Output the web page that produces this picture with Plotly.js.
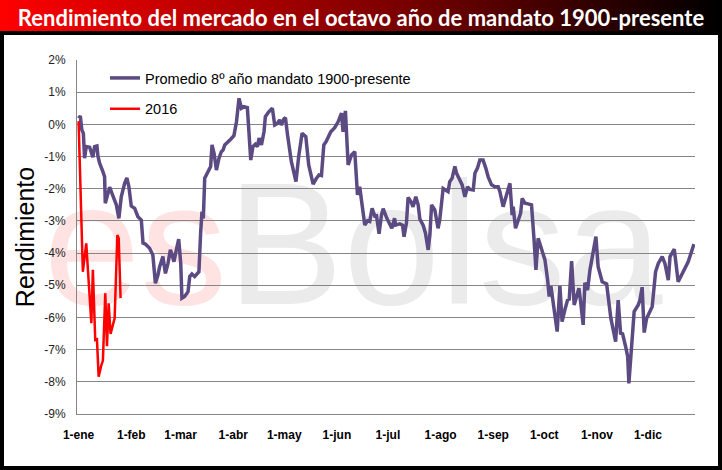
<!DOCTYPE html>
<html>
<head>
<meta charset="utf-8">
<script src="https://cdn.plot.ly/plotly-3.0.1.min.js"></script>
<style>html,body{margin:0;padding:0;background:#fff;}#chart{width:722px;height:470px;}</style>
</head>
<body>
<div id="chart"></div>
<script>
// ---- Data ----
// Day offsets from 1 January (calendar days) and returns in %
const avgDay = [0,1.0,1.9,2.8,3.5,4.5,6.5,8.4,9.4,10.8,11.4,12.4,14.3,15.3,15.7,16.9,18.3,19.6,22.2,23.7,25.1,27.1,28.4,29.6,31.0,33.0,34.9,36.9,37.9,39.3,41.8,43.7,45.2,46.7,47.7,49.6,51.1,52.6,54.0,54.9,56.1,57.5,58.9,60.1,60.8,62.4,64.4,65.4,66.7,68.3,69.9,70.8,71.8,72.6,73.4,74.2,75.2,76.1,77.7,78.5,79.7,81.1,82.6,84.0,85.0,86.0,87.6,89.5,91.4,92.9,94.4,95.8,97.3,99.3,101.3,102.6,104.0,105.2,106.2,107.6,109.1,109.9,111.9,114.0,115.4,117.0,118.3,119.3,120.7,121.7,122.9,125.2,127.9,129.5,131.5,133.7,135.4,138.0,140.0,141.5,142.9,144.3,145.8,148.4,150.7,152.7,154.7,155.6,157.0,158.6,160.6,162.5,164.1,165.4,166.8,168.4,170.0,171.3,172.7,174.3,175.3,176.8,178.2,179.2,181.4,184.3,185.9,186.6,189.0,190.6,191.5,192.9,193.9,195.5,196.8,198.4,199.8,200.8,202.7,204.1,205.7,206.7,207.7,209.6,211.5,212.5,214.5,216.5,217.4,218.4,219.8,221.4,222.4,224.3,225.7,227.3,228.9,230.2,232.2,233.2,234.7,236.1,238.0,239.6,241.0,243.0,244.9,246.9,247.9,249.8,251.8,253.8,255.1,255.7,257.1,258.6,260.1,261.0,262.6,264.5,266.5,268.0,269.1,270.4,272.4,274.4,276.0,276.9,277.9,279.2,281.6,283.2,284.5,286.1,287.7,288.7,290.1,291.6,293.0,294.4,295.6,296.9,297.9,299.5,300.9,302.8,304.4,305.7,308.1,310.7,313.2,316.0,317.5,318.9,320.1,321.9,323.1,323.8,325.4,326.9,329.3,330.3,331.6,332.8,334.2,336.2,337.5,339.5,341.1,343.4,345.0,347.0,348.0,350.5,352.8,354.8,358.7,362.1];
const avgVal = [0.19,0.26,-0.17,-0.28,-1.05,-0.69,-0.71,-1.02,-0.69,-0.67,-1.0,-1.21,-1.47,-1.63,-2.45,-2.25,-1.95,-2.14,-2.5,-2.92,-2.25,-1.83,-1.66,-1.94,-2.54,-2.61,-2.87,-2.97,-3.69,-3.72,-3.85,-4.06,-4.94,-4.68,-4.42,-4.11,-4.63,-4.32,-3.9,-4.03,-4.27,-3.9,-3.57,-4.32,-5.4,-5.35,-5.2,-4.73,-4.65,-4.73,-4.65,-4.58,-3.38,-2.71,-2.92,-1.67,-1.57,-1.47,-1.31,-0.64,-0.9,-1.42,-1.05,-0.85,-0.8,-0.64,-0.57,-0.46,-0.35,0.08,0.81,0.5,0.55,0.52,-1.11,-0.69,-0.62,-0.69,-0.43,-0.64,-0.23,0.24,0.39,0.5,-0.02,0.03,0.14,-0.02,0.16,0.21,-0.31,-1.16,-1.78,-1.0,-0.28,-0.38,-1.26,-1.86,-1.67,-1.57,-1.59,-0.64,-0.52,-0.23,-0.1,0.08,0.35,-0.23,0.42,-1.26,-0.95,-0.85,-2.19,-1.94,-2.5,-3.13,-3.0,-3.02,-2.61,-2.85,-2.84,-3.4,-2.82,-2.62,-2.92,-3.23,-2.92,-3.13,-3.09,-3.13,-3.49,-3.07,-2.27,-2.4,-2.56,-2.25,-2.5,-2.94,-3.13,-3.38,-3.9,-3.44,-2.5,-2.66,-3.23,-2.97,-1.99,-2.06,-2.09,-1.78,-1.67,-1.31,-1.52,-1.73,-1.88,-2.25,-1.94,-2.02,-2.04,-1.52,-1.36,-1.11,-1.11,-1.36,-1.63,-1.88,-1.94,-1.94,-2.09,-2.56,-2.19,-1.83,-2.82,-2.56,-3.23,-3.02,-2.76,-2.3,-2.45,-2.47,-2.5,-3.59,-4.52,-3.54,-3.85,-4.21,-4.84,-5.35,-5.02,-5.56,-6.44,-5.02,-6.13,-5.77,-5.46,-5.43,-4.25,-5.61,-5.35,-5.09,-5.61,-6.23,-4.92,-5.15,-4.52,-3.9,-3.49,-4.42,-4.89,-4.96,-6.03,-6.75,-5.46,-6.49,-6.51,-6.91,-7.22,-8.05,-6.8,-5.82,-5.61,-5.46,-5.06,-6.47,-6.03,-5.82,-5.67,-4.58,-4.32,-4.11,-4.32,-4.84,-4.11,-3.88,-4.89,-4.68,-4.27,-3.72];

const y2016Day = [0,2.5,4.5,7.5,8.4,9.8,10.8,11.8,13.3,14.3,15.7,16.7,17.7,18.8,21.2,22.8,23.6,24.7];
const y2016Val = [0.1,-4.58,-3.7,-6.18,-4.52,-6.7,-6.68,-7.84,-7.5,-7.34,-5.25,-6.89,-5.56,-6.51,-6.03,-3.44,-3.54,-5.4];

const seriesNames = ['Promedio 8º año mandato 1900-presente', '2016'];
const monthTicks = ['2016-01-01','2016-02-01','2016-03-01','2016-04-01','2016-05-01','2016-06-01','2016-07-01','2016-08-01','2016-09-01','2016-10-01','2016-11-01','2016-12-01'];
const monthLabels = ['1-ene','1-feb','1-mar','1-abr','1-may','1-jun','1-jul','1-ago','1-sep','1-oct','1-nov','1-dic'];
const yTickVals = [2,1,0,-1,-2,-3,-4,-5,-6,-7,-8,-9];
const yTickText = ['2%','1%','0%','-1%','-2%','-3%','-4%','-5%','-6%','-7%','-8%','-9%'];

const chartTitle = 'Rendimiento del mercado en el octavo año de mandato 1900-presente';
const yTitle = 'Rendimiento';

// ---- Helpers ----
function dayToDate(d) {
  const ms = Date.UTC(2016, 0, 1) + d * 86400000;
  return new Date(ms).toISOString().replace('T', ' ').slice(0, 19);
}

const W = 722, H = 470;
const M = {l: 77, r: 27, t: 60, b: 56};
const PW = W - M.l - M.r, PH = H - M.t - M.b;
const px = x => (x - M.l) / PW;          // pixel x -> paper x
const py = y => (H - M.b - y) / PH;      // pixel y -> paper y

const gradSvg = "<svg xmlns='http://www.w3.org/2000/svg' width='722' height='31' preserveAspectRatio='none'>" +
  "<defs><linearGradient id='g' x1='0' x2='1' y1='0' y2='0'>" +
  "<stop offset='0' stop-color='#FF0000'/><stop offset='0.55' stop-color='#7A0000'/><stop offset='1' stop-color='#000000'/>" +
  "</linearGradient></defs><rect width='722' height='31' fill='url(#g)'/></svg>";
const gradUri = 'data:image/svg+xml;charset=utf-8,' + encodeURIComponent(gradSvg);

const traces = [
  {
    x: avgDay.map(dayToDate), y: avgVal, type: 'scatter', mode: 'lines',
    name: seriesNames[0], legendgroup: 'a',
    line: {color: '#5C4A82', width: 3.5}
  },
  {
    x: y2016Day.map(dayToDate), y: y2016Val, type: 'scatter', mode: 'lines',
    name: seriesNames[1], legendgroup: 'b',
    line: {color: '#FF0000', width: 2.5}
  }
];

const layout = {
  width: W, height: H,
  margin: {l: M.l, r: M.r, t: M.t, b: M.b, pad: 0},
  paper_bgcolor: '#FFFFFF',
  plot_bgcolor: 'rgba(0,0,0,0)',
  font: {family: 'Liberation Sans, Arial, sans-serif', color: '#000'},
  title: {
    text: chartTitle,
    font: {family: 'Lato, Liberation Sans, sans-serif', size: 22, color: '#FFFFFF', weight: 'bold'},
    x: 0.5, xref: 'container', xanchor: 'center',
    y: 1 - 18 / H, yref: 'container', yanchor: 'middle'
  },
  showlegend: true,
  legend: {
    x: px(105), y: py(62), xanchor: 'left', yanchor: 'top',
    bgcolor: 'rgba(0,0,0,0)', borderwidth: 0,
    font: {family: 'Liberation Sans, sans-serif', size: 14.5, color: '#000'},
    traceorder: 'grouped', tracegroupgap: 9, itemwidth: 30
  },
  xaxis: {
    type: 'date',
    range: [dayToDate(-0.94), dayToDate(362.7)],
    tickmode: 'array', tickvals: monthTicks, ticktext: monthLabels,
    showgrid: false, zeroline: false,
    showline: true, linecolor: '#868686', linewidth: 1,
    ticks: '', ticklabelstandoff: 10,
    tickfont: {family: 'Liberation Sans, sans-serif', size: 12, color: '#000', weight: 'bold'},
    fixedrange: true
  },
  yaxis: {
    range: [-9, 2],
    tickmode: 'array', tickvals: yTickVals, ticktext: yTickText,
    showgrid: true, gridcolor: '#868686', gridwidth: 1,
    zeroline: false,
    showline: true, linecolor: '#868686', linewidth: 1,
    ticks: '', ticklabelstandoff: 8,
    tickfont: {family: 'Liberation Sans, sans-serif', size: 12, color: '#222'},
    title: {text: yTitle, font: {family: 'Liberation Sans, sans-serif', size: 25, color: '#000'}, standoff: 2},
    fixedrange: true
  },
  images: [{
    source: gradUri, xref: 'paper', yref: 'paper',
    x: px(0), y: py(0), sizex: W / PW, sizey: 31 / PH,
    sizing: 'stretch', xanchor: 'left', yanchor: 'top', layer: 'above'
  }],
  shapes: [
    { // outer black frame
      type: 'rect', xref: 'paper', yref: 'paper', layer: 'below',
      x0: px(0), x1: px(W), y0: py(H), y1: py(31),
      line: {color: '#000', width: 8}, fillcolor: 'rgba(0,0,0,0)'
    },
    { // watermark
      type: 'rect', xref: 'paper', yref: 'paper', layer: 'below',
      x0: px(22), x1: px(684), y0: py(307), y1: py(147),
      line: {width: 0}, fillcolor: 'rgba(0,0,0,0)',
      label: {
        text: "<span style='fill:#FFE3E3;color:#FFE3E3'>es</span><span style='fill:#EBEBEB;color:#EBEBEB'>Bolsa</span>",
        font: {family: 'Liberation Sans, sans-serif', size: 174, color: '#EBEBEB'},
        textposition: 'middle center'
      }
    }
  ]
};

Plotly.newPlot('chart', traces, layout, {displayModeBar: false, staticPlot: true});
</script>
</body>
</html>
